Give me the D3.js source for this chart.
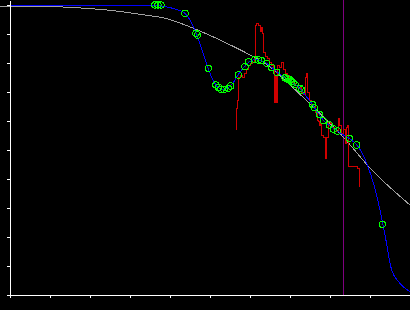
<!DOCTYPE html>
<html>
<head>
<meta charset="utf-8">
<script src="https://cdn.jsdelivr.net/npm/d3@7"></script>
<style>
  html, body { margin: 0; padding: 0; background: #000; }
  svg { display: block; }
</style>
</head>
<body>
<div id="chart"></div>
<script>
//////////////////////////// data /////////////////////////////////////////

// smooth model curve (gray)
const modelX = [-0.25, 1.0, 2.0, 2.5, 3.25, 3.9, 4.6, 5.3, 6.0, 6.5, 7.0, 7.58, 8.33, 9.0, 10.0];
const modelY = [9.955, 9.945, 9.876, 9.817, 9.679, 9.534, 9.19, 8.759, 8.276, 7.872, 7.241, 6.483, 5.448, 4.379, 3.103];

// fitted curve (blue)
const fitX = [0, 3.5, 3.75, 4.0, 4.2, 4.375, 4.5, 4.65, 4.8, 4.95, 5.075, 5.2, 5.325, 5.45, 5.575,
  5.7, 5.85, 5.975, 6.125, 6.25, 6.4, 6.55, 6.7, 6.875, 7.05, 7.25, 7.4, 7.55, 7.7, 7.85, 8.0,
  8.175, 8.325, 8.5, 8.675, 8.825, 8.95, 9.1, 9.25, 9.375, 9.5425, 9.75, 10.0];
const fitY = [10.0, 10.0, 9.97, 9.91, 9.83, 9.71, 9.48, 9.03, 8.45, 7.83, 7.41, 7.16, 7.09, 7.14, 7.31,
  7.59, 7.86, 8.03, 8.12, 8.10, 8.0, 7.84, 7.67, 7.49, 7.34, 7.12, 6.86, 6.59, 6.28, 6.0, 5.83,
  5.66, 5.53, 5.38, 5.17, 4.83, 4.42, 3.79, 2.93, 2.07, 0.86, 0.40, 0.11];

// measured series (red, stepped)
const measX = [5.6375, 5.6625, 5.6875, 5.7125, 5.75, 5.8, 5.85, 5.9, 5.95, 6.0, 6.05, 6.1, 6.1375,
  6.1625, 6.2, 6.225, 6.25, 6.275, 6.3, 6.325, 6.375, 6.425, 6.475, 6.525, 6.575, 6.6125, 6.6375,
  6.6625, 6.6875, 6.725, 6.775, 6.825, 6.875, 6.925, 6.975, 7.025, 7.075, 7.125, 7.175, 7.225,
  7.275, 7.325, 7.375, 7.4, 7.425, 7.475, 7.525, 7.575, 7.625, 7.675, 7.7, 7.725, 7.75, 7.775,
  7.825, 7.875, 7.9, 7.95, 8.0, 8.05, 8.1, 8.15, 8.2, 8.225, 8.275, 8.325, 8.375, 8.4, 8.4375,
  8.4625, 8.675, 8.725];
const measY = [5.69, 6.448, 6.724, 7.483, 7.552, 7.483, 7.621, 7.759, 7.897, 7.966, 8.034, 8.172, 9.31,
  9.345, 9.276, 9.31, 9.103, 9.241, 9.034, 8.379, 8.241, 8.172, 8.034, 7.897, 7.759, 6.621, 7.586,
  6.655, 7.897, 7.828, 8.034, 7.759, 7.621, 7.552, 7.483, 7.414, 7.31, 7.207, 7.138, 7.138,
  7.0, 6.897, 7.483, 7.621, 7.0, 6.724, 6.586, 6.586, 6.31, 6.034, 5.966, 5.828, 5.897, 5.483,
  5.414, 4.724, 5.448, 5.966, 5.897, 5.759, 5.69, 5.655, 6.103, 5.828, 5.552, 5.69, 5.241, 5.759, 5.828,
  4.448, 4.379, 3.724];

// sample points (green circles)
const sampleX = [3.625, 3.7, 3.775, 4.375, 4.65, 4.6875, 4.9575, 5.15, 5.2125, 5.275, 5.35, 5.4575,
  5.5175, 5.7075, 5.875, 5.9575, 6.125, 6.2075, 6.2925, 6.4175, 6.5425, 6.6675, 6.875, 6.925,
  6.9575, 7.0, 7.0425, 7.075, 7.125, 7.25, 7.2925, 7.5575, 7.6075, 7.7325, 7.8325, 7.9825,
  8.0825, 8.1825, 8.4825, 8.6675, 9.3075];
const sampleY = [10.0, 10.0, 10.0, 9.71, 9.024, 8.966, 7.817, 7.241, 7.162, 7.093, 7.093, 7.128,
  7.207, 7.586, 7.872, 8.034, 8.128, 8.103, 8.079, 7.989, 7.845, 7.683, 7.486, 7.459,
  7.431, 7.414, 7.362, 7.31, 7.259, 7.128, 7.069, 6.576, 6.459, 6.231, 6.011, 5.862,
  5.724, 5.655, 5.403, 5.172, 2.437];

// reference marker
const markerX = 8.33;

// ticks
const xTicks = d3.range(0, 11);
const yTicks = d3.range(0, 11);

//////////////////////////// set up svg ///////////////////////////////////

const width = 410;
const height = 310;
const margin = { top: 0, right: 0, bottom: 15, left: 10 };

const svg = d3.select("#chart").append("svg")
  .attr("width", width)
  .attr("height", height)
  .style("background", "#000");

const xScale = d3.scaleLinear()
  .domain([0, 10])
  .range([margin.left, width - margin.right]);

// one unit is 29px, the top of the frame sits a bit above 10
const yScale = d3.scaleLinear()
  .domain([0, 295 / 29])
  .range([height - margin.bottom, margin.top]);

//////////////////////////// marker line //////////////////////////////////

svg.append("line")
  .attr("x1", Math.round(xScale(markerX)) + 0.5)
  .attr("x2", Math.round(xScale(markerX)) + 0.5)
  .attr("y1", yScale(0))
  .attr("y2", yScale.range()[1])
  .attr("stroke", "#800080")
  .attr("stroke-width", 1)
  .attr("shape-rendering", "crispEdges");

//////////////////////////// lines ////////////////////////////////////////

const zip = (xs, ys) => xs.map((x, i) => [x, ys[i]]);

const smooth = d3.line()
  .x(d => xScale(d[0]))
  .y(d => yScale(d[1]))
  .curve(d3.curveMonotoneX);

svg.append("path")
  .datum(zip(modelX, modelY))
  .attr("d", smooth)
  .attr("fill", "none")
  .attr("stroke", "#a0a0a0")
  .attr("stroke-width", 1)
  .attr("shape-rendering", "crispEdges");

const stepped = d3.line()
  .x(d => xScale(d[0]))
  .y(d => yScale(d[1]))
  .curve(d3.curveStepAfter);

svg.append("path")
  .datum(zip(measX, measY))
  .attr("d", stepped)
  .attr("fill", "none")
  .attr("stroke", "#d00000")
  .attr("stroke-width", 1)
  .attr("shape-rendering", "crispEdges");

svg.append("path")
  .datum(zip(fitX, fitY))
  .attr("d", smooth)
  .attr("fill", "none")
  .attr("stroke", "#0000ff")
  .attr("stroke-width", 1)
  .attr("shape-rendering", "crispEdges");

//////////////////////////// samples //////////////////////////////////////

const samples = svg.append("g").selectAll("g")
  .data(zip(sampleX, sampleY))
  .join("g")
  .attr("transform", d => `translate(${xScale(d[0])},${yScale(d[1])})`);

samples.append("circle")
  .attr("r", 3.2)
  .attr("fill", "none")
  .attr("stroke", "#00ff00")
  .attr("stroke-width", 1)
  .attr("shape-rendering", "crispEdges");

samples.append("rect")
  .attr("x", -0.5)
  .attr("y", -0.5)
  .attr("width", 1)
  .attr("height", 1)
  .attr("fill", "#00aa00");

//////////////////////////// axes /////////////////////////////////////////

const xAxis = svg.append("g")
  .attr("transform", `translate(0,${yScale(0)})`)
  .call(d3.axisBottom(xScale).tickValues(xTicks).tickFormat("").tickSize(3).tickSizeOuter(0));

const yAxis = svg.append("g")
  .attr("transform", `translate(${xScale(0)},0)`)
  .call(d3.axisLeft(yScale).tickValues(yTicks).tickFormat("").tickSize(3).tickSizeOuter(0));

[xAxis, yAxis].forEach(ax => {
  ax.selectAll("path, line")
    .attr("stroke", "#fff")
    .attr("stroke-width", 1.2)
    .attr("shape-rendering", "crispEdges");
});
</script>
</body>
</html>
